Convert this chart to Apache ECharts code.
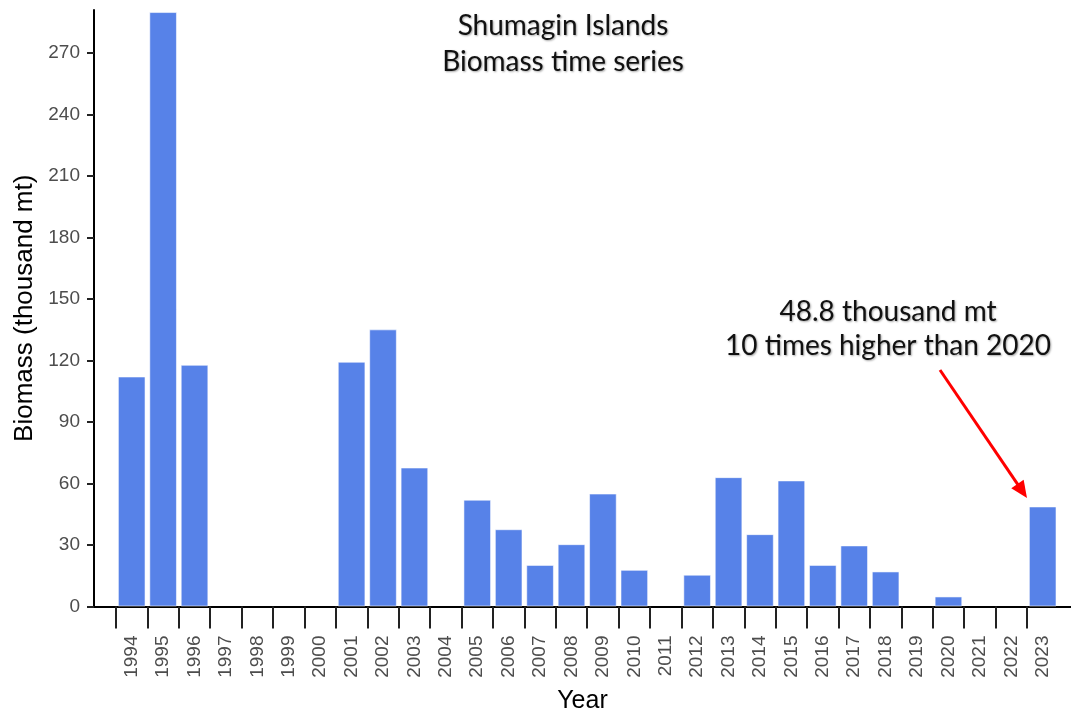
<!DOCTYPE html>
<html>
<head>
<meta charset="utf-8">
<script src="https://cdn.jsdelivr.net/npm/echarts@6/dist/echarts.min.js"></script>
<style>
html,body{margin:0;padding:0;background:#fff;}
#chart{width:1071px;height:713px;}
</style>
</head>
<body>
<div id="chart"></div>
<script>
// ---- data ----
const years = ['1994','1995','1996','1997','1998','1999','2000','2001','2002','2003',
  '2004','2005','2006','2007','2008','2009','2010','2011','2012','2013',
  '2014','2015','2016','2017','2018','2019','2020','2021','2022','2023'];
const biomass = [112.2, 290, 117.9, null, null, null, null, 119.4, 135.2, 67.8,
  null, 52.1, 37.7, 20.3, 30.4, 55.1, 17.9, null, 15.5, 63.1,
  35.3, 61.5, 20.3, 29.8, 17.1, null, 4.9, null, null, 48.8];
const yTickValues = [0, 30, 60, 90, 120, 150, 180, 210, 240, 270];
const yMax = 291;
const titleLines = ['Shumagin Islands', 'Biomass time series'];
const noteLines = ['48.8 thousand mt', '10 times higher than 2020'];

// ---- layout ----
const W = 1071, H = 713;
const axisLeft = 94, bandLeft = 116, bandRightGap = 12.6;
const gTop = 10, gBottom = 106.5;
const N = years.length;
const bandW = (W - bandLeft - bandRightGap) / N;
const xMin = -(bandLeft - axisLeft) / bandW;
const xMax = N + bandRightGap / bandW;
const tickIdx = years.map((_, i) => i);

const chart = echarts.init(document.getElementById('chart'), null, {renderer: 'canvas'});

// arrow geometry (annotation)
const aStart = [940, 370], aTip = [1027, 498];
const dx = aTip[0] - aStart[0], dy = aTip[1] - aStart[1];
const len = Math.hypot(dx, dy), ux = dx / len, uy = dy / len;
const headL = 17, headW = 7.5;
const base = [aTip[0] - ux * headL, aTip[1] - uy * headL];
const px = -uy, py = ux;

const fontAxis = '"Liberation Sans", Arial, sans-serif';
const fontNote = 'Lato, "Open Sans", sans-serif';
const shadow = {textShadowColor: 'rgba(0,0,0,0.35)', textShadowBlur: 2, textShadowOffsetX: 1, textShadowOffsetY: 1};

chart.setOption({
  animation: false,
  backgroundColor: '#ffffff',
  grid: [
    {left: axisLeft, right: 0, top: gTop, bottom: gBottom, containLabel: false, outerBoundsMode: 'none'},
    {left: bandLeft, right: bandRightGap, top: gTop, bottom: gBottom, containLabel: false, outerBoundsMode: 'none'}
  ],
  xAxis: [
    {
      gridIndex: 0, type: 'value', min: xMin, max: xMax,
      axisLine: {show: true, onZero: false, lineStyle: {color: '#000', width: 2}},
      axisTick: {show: true, customValues: tickIdx, length: 22, lineStyle: {color: '#222', width: 2}},
      axisLabel: {show: false},
      splitLine: {show: false},
      name: 'Year', nameLocation: 'middle', nameGap: 82,
      nameTextStyle: {fontFamily: fontAxis, fontSize: 25, color: '#000'}
    },
    {
      gridIndex: 1, type: 'category', data: years, boundaryGap: true,
      axisLine: {show: false}, axisTick: {show: false},
      axisLabel: {interval: 0, rotate: 90, margin: 29, fontFamily: fontAxis, fontSize: 19, color: '#4d4d4d'}
    }
  ],
  yAxis: [
    {
      gridIndex: 0, type: 'value', min: 0, max: yMax,
      axisLine: {show: true, onZero: false, lineStyle: {color: '#000', width: 2}},
      axisTick: {show: true, customValues: yTickValues, length: 7, lineStyle: {color: '#222', width: 2}},
      axisLabel: {customValues: yTickValues, margin: 14, fontFamily: fontAxis, fontSize: 19, color: '#4d4d4d'},
      splitLine: {show: false},
      name: 'Biomass (thousand mt)', nameLocation: 'middle', nameGap: 52,
      nameTextStyle: {fontFamily: fontAxis, fontSize: 26, color: '#000'}
    },
    {gridIndex: 1, type: 'value', min: 0, max: yMax, show: false}
  ],
  series: [{
    type: 'bar', xAxisIndex: 1, yAxisIndex: 1, data: biomass,
    barCategoryGap: '12%',
    itemStyle: {color: '#5782e8', borderColor: 'rgba(255,255,255,0.55)', borderWidth: 1}
  }],
  graphic: [
    {type: 'text', x: 563, y: 44, style: Object.assign({text: titleLines.join('\n'), fontFamily: fontNote, fontSize: 28, lineHeight: 36,
      fill: '#111', align: 'center', verticalAlign: 'middle'}, shadow)},
    {type: 'text', x: 888, y: 329, style: Object.assign({text: noteLines.join('\n'), fontFamily: fontNote, fontSize: 28, lineHeight: 34,
      fill: '#111', align: 'center', verticalAlign: 'middle'}, shadow)},
    {type: 'line', shape: {x1: aStart[0], y1: aStart[1], x2: base[0] + ux * 2, y2: base[1] + uy * 2},
      style: {stroke: '#ff0000', lineWidth: 3}},
    {type: 'polygon', shape: {points: [aTip, [base[0] + px * headW, base[1] + py * headW], [base[0] - px * headW, base[1] - py * headW]]},
      style: {fill: '#ff0000'}}
  ]
});
</script>
</body>
</html>
